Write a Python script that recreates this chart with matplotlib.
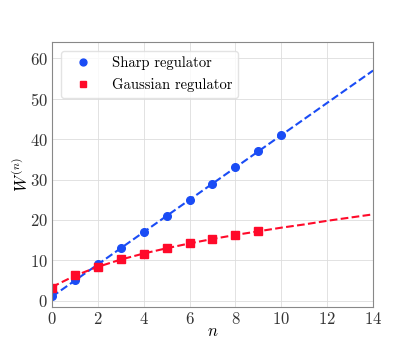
import numpy as np
from matplotlib import pyplot as plt

plt.rc('font', family='serif', size=11)
plt.rcParams['font.serif'] = ['cmr10']
plt.rcParams['mathtext.fontset'] = 'cm'
plt.rcParams['axes.formatter.use_mathtext'] = True

# data points
n_sharp = [0, 1, 2, 3, 4, 5, 6, 7, 8, 9, 10]
w_sharp = [1.2, 5.1, 9.0, 13.0, 17.0, 21.0, 25.0, 29.0, 33.0, 37.0, 41.0]
n_gauss = [0, 1, 2, 3, 4, 5, 6, 7, 8, 9]
w_gauss = [3.2, 6.5, 8.4, 10.3, 11.7, 13.0, 14.2, 15.2, 16.3, 17.2]

# fitted curves
n_fit_sharp = [0, 14]
w_fit_sharp = [1.0, 57.0]
n_fit_gauss = [0, 1, 2, 3, 4, 5, 6, 7, 8, 9, 10, 11, 12, 13, 14]
w_fit_gauss = [3.4, 6.2, 8.4, 10.2, 11.7, 13.0, 14.2, 15.3, 16.3, 17.2,
               18.1, 18.9, 19.8, 20.6, 21.4]

blue = '#1a4cf5'
red = '#ff0a2a'

fig, ax = plt.subplots(figsize=(4.15, 3.46), dpi=100)
fig.subplots_adjust(left=0.125, right=0.899, bottom=0.112, top=0.879)

ax.plot(n_fit_sharp, w_fit_sharp, '--', color=blue, lw=1.5)
ax.plot(n_fit_gauss, w_fit_gauss, '--', color=red, lw=1.5)
ax.plot(n_sharp, w_sharp, 'o', color=blue, ms=5.5, label='Sharp regulator')
ax.plot(n_gauss, w_gauss, 's', color=red, ms=5.5, label='Gaussian regulator')

ax.set_xlim(0, 14)
ax.set_ylim(-1.6, 64.1)
ax.set_xticks(np.arange(0, 15, 2))
ax.set_yticks(np.arange(0, 61, 10))
ax.grid(True, color='#dddddd', lw=0.6)
for s in ax.spines.values():
    s.set_color('#888888')
ax.tick_params(length=0, pad=3, labelcolor='#333333', labelsize=12)
ax.set_xlabel('$n$', fontsize=12, labelpad=-3)
ax.set_ylabel('$W^{(n)}$', fontsize=12, labelpad=-1)
leg = ax.legend(loc='upper left', fontsize=10.5, framealpha=0.8,
                edgecolor='#dddddd', handlelength=2.2, handletextpad=0.9,
                markerscale=0.9, borderaxespad=0.6)

plt.savefig('out.png', dpi=100)
